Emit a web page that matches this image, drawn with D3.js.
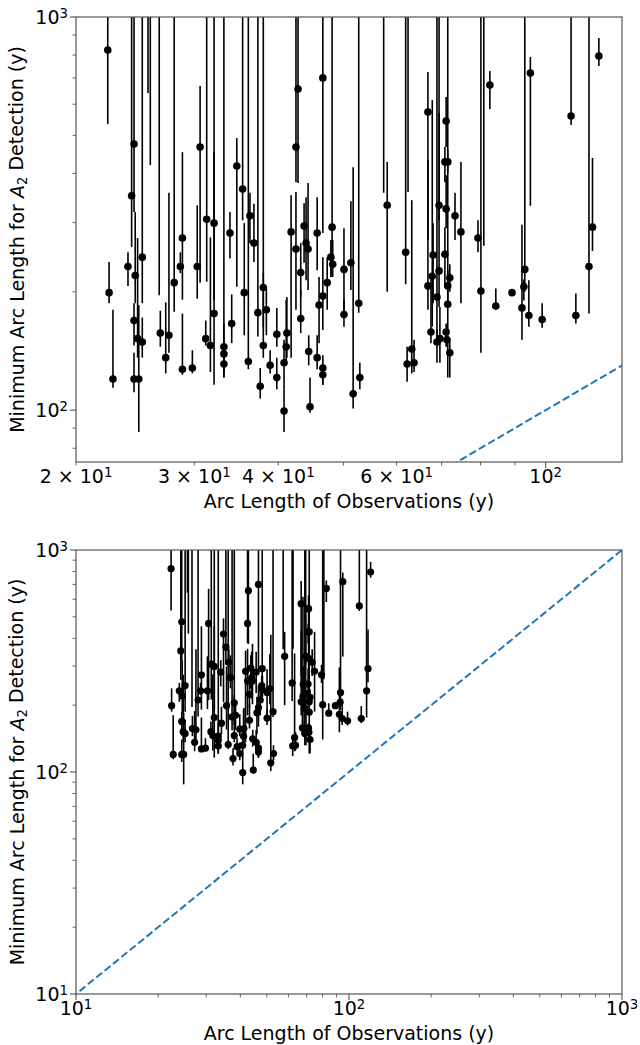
<!DOCTYPE html>
<html>
<head>
<meta charset="utf-8">
<script src="https://cdn.jsdelivr.net/npm/d3@7/dist/d3.min.js"></script>
<style>
  body { margin: 0; background: #fff; }
  text { font-family: "DejaVu Sans", sans-serif; fill: #000; }
</style>
</head>
<body>
<svg id="chart" width="640" height="1045"></svg>
<script>
// arc length of observations (x) and minimum arc length for A2 detection (y), years
const arcObs = [
  22.3, 22.4, 22.7, 23.9, 24.2, 24.4, 24.5, 24.4, 24.4, 24.7, 24.8, 25.1, 25.1, 25.6, 25.8, 26.7, 26.6, 27.2, 27.5, 28.0,
  28.6, 28.8, 28.8, 29.8, 30.3, 30.6, 31.3, 31.2, 31.7, 32.1, 32.1, 33.2, 33.2, 33.2, 33.9, 34.1, 34.7, 35.4, 35.6, 36.1, 36.3,
  36.8, 37.3, 37.6, 38.0, 38.0, 38.4, 38.9, 39.8, 39.8, 40.8, 40.8, 41.1, 41.2, 41.8, 42.5, 42.8, 42.5, 43.2, 43.2, 43.7, 44.0,
  44.3, 44.4, 44.6, 45.7, 45.7, 46.0, 46.6, 46.6, 46.6, 46.6, 47.3,
  47.9, 48.1, 48.2, 50.1, 50.1, 51.3, 51.7, 52.7, 52.9, 58.1, 57.4, 61.9, 62.4, 62.2, 63.2, 63.7,
  66.8, 66.8, 67.5, 67.8, 68.0, 68.9, 68.9, 69.4, 69.4, 69.6, 70.8, 70.8, 71.1, 71.1, 71.1, 71.3, 71.5, 71.5, 71.5, 72.0, 72.0,
  73.3, 74.8, 79.3, 80.1, 80.9,
  82.6, 84.3, 89.1, 92.2, 92.8, 93.1, 94.4, 94.9, 98.8, 109.1, 110.9, 116.0, 117.4, 120.0
];
const minArc = [
  824, 199, 120, 232, 351, 475, 220, 169, 120, 152, 120, 245, 149, 1400, 1300, 157, 1300, 136, 155, 211,
  232, 274, 127, 128, 232, 467, 306, 152, 146, 299, 176, 145, 139, 131, 282, 166, 418, 365, 199, 133, 312,
  266, 177, 115, 205, 146, 180, 130, 156, 121, 132, 99.5, 145, 157, 284, 467, 656, 257, 224, 171, 294, 266,
  257, 141, 102, 282, 136, 185, 700, 195, 128, 123, 211,
  245, 292, 235, 228, 175, 237, 110, 187, 121, 332, 1400, 252, 1300, 131, 143, 132,
  573, 207, 158, 219, 248, 194, 149, 226, 332, 152, 428, 249, 544, 325, 158, 151, 207, 186, 428, 217, 140,
  312, 284, 274, 201, 1400,
  671, 184, 199, 182, 206, 228, 174, 720, 170, 560, 174, 232, 292, 796
];
const minArcLow = [
  534, 187, 114, 207, 260, 319, 187, 146, 111, 136, 88, 187, 136, 641, 420, 145, 196, 124, 140, 178,
  223, 191, 123, 124, 192, 211, 212, 146, 125, 191, 116, 125, 121, 121, 243, 148, 206, 304, 155, 127, 266,
  238, 154, 107, 163, 136, 155, 124, 145, 113, 113, 88, 132, 136, 136, 380, 378, 180, 194, 157, 237, 214,
  202, 130, 98.5, 227, 127, 148, 282, 160, 116, 116, 180,
  218, 218, 218, 175, 163, 202, 101, 177, 113, 200, 357, 209, 359, 118, 124, 125,
  271, 180, 148, 163, 187, 153, 132, 183, 304, 132, 380, 206, 467, 290, 145, 145, 187, 121, 401, 200, 121,
  271, 187, 252, 140, 262,
  583, 180, 199, 151, 190, 200, 163, 331, 162, 531, 166, 176, 254, 750
];
const minArcHigh = [
  3000, 238, 180, 252, 3000, 3000, 319, 187, 140, 274, 185, 3000, 172, 3000, 3000, 179, 3000, 188, 357, 3000,
  252, 453, 176, 142, 332, 668, 3000, 169, 275, 3000, 453, 3000, 166, 146, 319, 197, 492, 3000, 299, 3000, 357,
  335, 3000, 128, 223, 3000, 204, 142, 182, 136, 151, 113, 191, 194, 352, 3000, 3000, 359, 266, 202, 336, 348,
  378, 155, 121, 348, 155, 218, 3000, 245, 138, 130, 245,
  271, 3000, 271, 290, 191, 340, 415, 3000, 132, 428, 3000, 3000, 3000, 145, 342, 151,
  725, 433, 218, 615, 299, 3000, 160, 570, 3000, 183, 467, 292, 626, 396, 166, 158, 227, 3000, 459, 235, 151,
  357, 428, 304, 3000, 3000,
  729, 204, 199, 296, 215, 3000, 214, 791, 187, 3000, 198, 3000, 438, 884
];

// one-to-one reference line
const diagLine = [1, 10000];

// tick values and labels ("^" marks the exponent)
const topXTicks = [20, 30, 40, 60, 100];
const topXTickLabels = ["2 × 10^1", "3 × 10^1", "4 × 10^1", "6 × 10^1", "10^2"];
const topYTicks = [100, 1000];
const topYTickLabels = ["10^2", "10^3"];
const bottomXTicks = [10, 100, 1000];
const bottomXTickLabels = ["10^1", "10^2", "10^3"];
const bottomYTicks = [10, 100, 1000];
const bottomYTickLabels = ["10^1", "10^2", "10^3"];

const points = arcObs.map((x, i) => ({ x: x, y: minArc[i], lo: minArcLow[i], hi: minArcHigh[i] }));

const svg = d3.select("#chart");
const axisColor = "#555";
const fontSize = 19;

function minorTicks(domain, majors) {
  const out = [];
  for (let e = -1; e < 5; e++) {
    for (let m = 1; m < 10; m++) {
      const v = m * Math.pow(10, e);
      if (v >= domain[0] * 0.999 && v <= domain[1] * 1.001 && !majors.includes(v)) out.push(v);
    }
  }
  return out;
}

function addLabel(sel, str) {
  const parts = str.split("^");
  sel.append("tspan").text(parts[0]);
  if (parts[1]) {
    sel.append("tspan").attr("dy", "-0.48em").attr("font-size", fontSize * 0.7).text(parts[1]);
  }
}

function drawPanel(cfg, idx) {
  const x = d3.scaleLog().domain(cfg.xDomain).range([cfg.left, cfg.right]);
  const y = d3.scaleLog().domain(cfg.yDomain).range([cfg.bottom, cfg.top]);
  const g = svg.append("g");

  g.append("clipPath").attr("id", "clip" + idx)
    .append("rect")
    .attr("x", cfg.left).attr("y", cfg.top)
    .attr("width", cfg.right - cfg.left).attr("height", cfg.bottom - cfg.top);

  const plot = g.append("g").attr("clip-path", `url(#clip${idx})`);

  // dashed y = x line
  plot.append("path")
    .attr("d", d3.line().x(d => x(d)).y(d => y(d))(diagLine))
    .attr("fill", "none")
    .attr("stroke", "#1f77b4")
    .attr("stroke-width", 2)
    .attr("stroke-dasharray", "7.5,3.3");

  plot.selectAll(".err").data(points).enter().append("line")
    .attr("x1", d => x(d.x)).attr("x2", d => x(d.x))
    .attr("y1", d => y(d.lo)).attr("y2", d => y(d.hi))
    .attr("stroke", "#000").attr("stroke-width", 1.6);

  plot.selectAll(".pt").data(points).enter().append("circle")
    .attr("cx", d => x(d.x)).attr("cy", d => y(d.y))
    .attr("r", cfg.r).attr("fill", "#000");

  // frame
  g.append("rect")
    .attr("x", cfg.left).attr("y", cfg.top)
    .attr("width", cfg.right - cfg.left).attr("height", cfg.bottom - cfg.top)
    .attr("fill", "none").attr("stroke", axisColor).attr("stroke-width", 1.2);

  // x ticks
  const xMinor = minorTicks(cfg.xDomain, cfg.xMajor);
  g.selectAll(".xmin").data(xMinor).enter().append("line")
    .attr("x1", d => x(d)).attr("x2", d => x(d))
    .attr("y1", cfg.bottom).attr("y2", cfg.bottom + 3.5)
    .attr("stroke", axisColor).attr("stroke-width", 0.9);
  g.selectAll(".xmaj").data(cfg.xMajor).enter().append("line")
    .attr("x1", d => x(d)).attr("x2", d => x(d))
    .attr("y1", cfg.bottom).attr("y2", cfg.bottom + 6)
    .attr("stroke", axisColor).attr("stroke-width", 1.1);
  cfg.xTicks.forEach((v, i) => {
    const t = g.append("text")
      .attr("x", x(v)).attr("y", cfg.bottom + 21)
      .attr("text-anchor", "middle")
      .attr("font-size", fontSize);
    addLabel(t, cfg.xTickLabels[i]);
  });

  // y ticks
  const yMinor = minorTicks(cfg.yDomain, cfg.yTicks);
  g.selectAll(".ymin").data(yMinor).enter().append("line")
    .attr("x1", cfg.left - 3.5).attr("x2", cfg.left)
    .attr("y1", d => y(d)).attr("y2", d => y(d))
    .attr("stroke", axisColor).attr("stroke-width", 0.9);
  g.selectAll(".ymaj").data(cfg.yTicks).enter().append("line")
    .attr("x1", cfg.left - 6).attr("x2", cfg.left)
    .attr("y1", d => y(d)).attr("y2", d => y(d))
    .attr("stroke", axisColor).attr("stroke-width", 1.1);
  cfg.yTicks.forEach((v, i) => {
    const t = g.append("text")
      .attr("x", cfg.left - 8).attr("y", y(v) + 7)
      .attr("text-anchor", "end")
      .attr("font-size", fontSize);
    addLabel(t, cfg.yTickLabels[i]);
  });

  // axis titles
  g.append("text")
    .attr("x", (cfg.left + cfg.right) / 2).attr("y", cfg.bottom + 46)
    .attr("text-anchor", "middle").attr("font-size", fontSize)
    .text("Arc Length of Observations (y)");

  const yl = g.append("text")
    .attr("transform", `translate(24,${(cfg.top + cfg.bottom) / 2}) rotate(-90)`)
    .attr("text-anchor", "middle").attr("font-size", fontSize);
  yl.append("tspan").text("Minimum Arc Length for ");
  yl.append("tspan").attr("font-style", "italic").text("A");
  yl.append("tspan").attr("dy", "0.25em").attr("font-size", fontSize * 0.7).text("2");
  yl.append("tspan").attr("dy", "-0.25em").text(" Detection (y)");
}

drawPanel({
  left: 76, right: 622, top: 17, bottom: 462, r: 3.8,
  xDomain: [20, 129.9], yDomain: [73.8, 1000],
  xMajor: [100], xTicks: topXTicks, xTickLabels: topXTickLabels,
  yTicks: topYTicks, yTickLabels: topYTickLabels
}, 0);

drawPanel({
  left: 76, right: 622, top: 550, bottom: 994, r: 3.6,
  xDomain: [10, 1000], yDomain: [10, 1000],
  xMajor: bottomXTicks, xTicks: bottomXTicks, xTickLabels: bottomXTickLabels,
  yTicks: bottomYTicks, yTickLabels: bottomYTickLabels
}, 1);
</script>
</body>
</html>
